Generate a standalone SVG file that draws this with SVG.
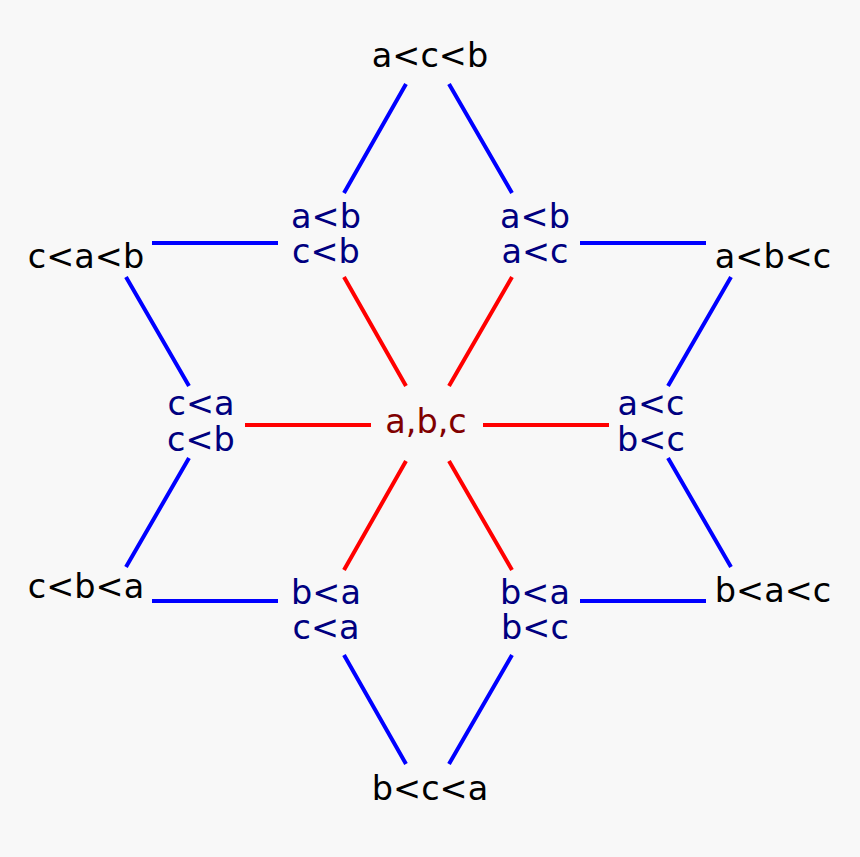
<svg xmlns="http://www.w3.org/2000/svg" width="860" height="857" viewBox="0 0 860 857">
<style>
text{font-family:"DejaVu Sans",sans-serif;font-size:33.5px;text-anchor:middle}
.o{fill:#000}
.p{fill:#000080}
.c{fill:#800000}
.b{stroke:#0000ff;stroke-width:4;fill:none}
.r{stroke:#ff0000;stroke-width:4;fill:none}
</style>
<rect width="860" height="857" fill="#f8f8f8"/>
<g id="connectors">
<path class="b" d="M406,84L344,193M449,84L512,193M152,243H278M580,243H706M126,277L189,386M731,277L668,386M189,458L126,567M668,458L731,567M152,601H278M580,601H706M344,655L406,764M512,655L449,764"/>
<path class="r" d="M344,277L406,386M512,277L449,386M245,425H371M483,425H609M406,461L344,570M449,461L512,570"/>
</g>
<g id="acb"><text class="o" x="430" y="67">a&lt;c&lt;b</text></g>
<g id="cab"><text class="o" x="86" y="268">c&lt;a&lt;b</text></g>
<g id="abc_total"><text class="o" x="773" y="268">a&lt;b&lt;c</text></g>
<g id="cba"><text class="o" x="86" y="598">c&lt;b&lt;a</text></g>
<g id="bac"><text class="o" x="773" y="602">b&lt;a&lt;c</text></g>
<g id="bca"><text class="o" x="430" y="800">b&lt;c&lt;a</text></g>
<g id="ab_cb"><text class="p" x="326" y="228">a&lt;b</text><text class="p" x="326" y="263">c&lt;b</text></g>
<g id="ab_ac"><text class="p" x="535" y="228">a&lt;b</text><text class="p" x="535" y="263">a&lt;c</text></g>
<g id="ca_cb"><text class="p" x="201" y="415">c&lt;a</text><text class="p" x="201" y="451">c&lt;b</text></g>
<g id="ac_bc"><text class="p" x="651" y="415">a&lt;c</text><text class="p" x="651" y="451">b&lt;c</text></g>
<g id="ba_ca"><text class="p" x="326" y="604">b&lt;a</text><text class="p" x="326" y="639">c&lt;a</text></g>
<g id="ba_bc"><text class="p" x="535" y="604">b&lt;a</text><text class="p" x="535" y="639">b&lt;c</text></g>
<g id="center"><text class="c" x="426" y="433">a,b,c</text></g>
</svg>
